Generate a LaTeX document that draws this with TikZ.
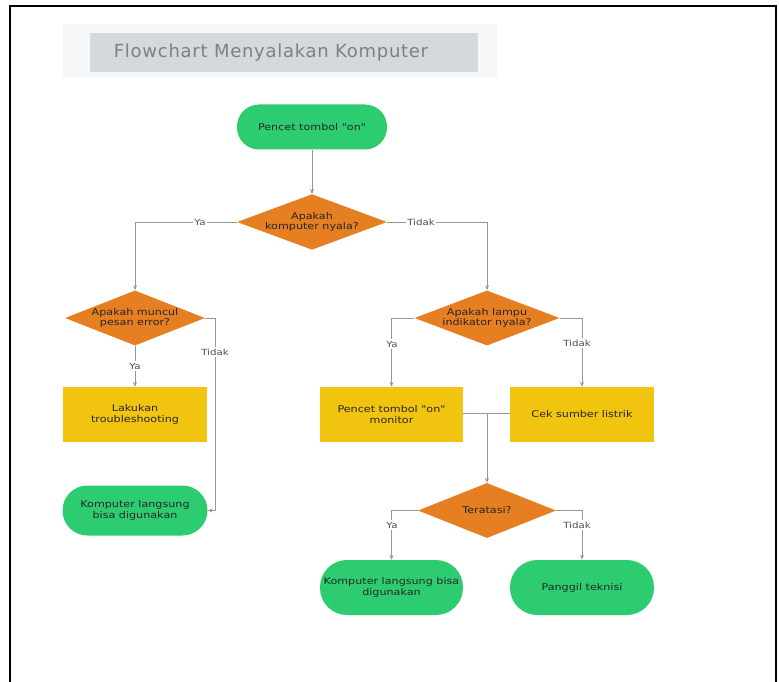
\documentclass[tikz,border=0pt]{standalone}
\usepackage{fontspec}
\setmainfont{DejaVu Sans}
\newfontfamily\nodefont[FakeStretch=1.2]{DejaVu Sans}
\usetikzlibrary{shapes.geometric,arrows.meta}
\definecolor{cgreen}{RGB}{46,204,113}
\definecolor{corange}{RGB}{230,126,34}
\definecolor{cyellow}{RGB}{241,196,15}
\definecolor{cpanel}{RGB}{244,246,247}
\definecolor{ctitlebox}{RGB}{213,216,220}
\definecolor{ctitletext}{RGB}{128,128,128}
\definecolor{cline}{RGB}{150,150,150}
\begin{document}
\begin{tikzpicture}[x=1pt,y=-1pt,
  txt/.style={font=\nodefont\fontsize{9.3}{10.5}\selectfont, text=black!85, align=center, inner sep=0pt},
  oval/.style={txt, fill=cgreen, minimum width=#1, minimum height=50pt, rounded corners=25pt},
  oval/.default=145pt,
  dec/.style={txt, diamond, fill=corange, aspect=2.6, minimum width=#1, minimum height=55pt},
  dec/.default=145pt,
  proc/.style={txt, fill=cyellow, minimum width=144pt, minimum height=55pt},
  conn/.style={draw=cline, line width=0.8pt, -{Stealth[length=5pt,width=4pt]}},
  seg/.style={draw=cline, line width=0.8pt},
  lbl/.style={font=\nodefont\fontsize{8.5}{9}\selectfont, text=black!70, fill=white, inner sep=1.5pt}
]
\useasboundingbox (0,0) rectangle (779,682);
% frame
\draw[line width=1.5pt] (10,682) -- (10,6) -- (776,6) -- (776,682);
% title
\fill[cpanel] (63,24) rectangle (497,78);
\node[fill=ctitlebox, minimum width=388pt, minimum height=39pt, inner sep=0pt] (titlebox) at (284,52.5) {};
\node[font=\addfontfeatures{LetterSpace=4}\fontsize{18}{20}\selectfont, text=ctitletext, inner sep=0pt] (title) at (271,52.5) {Flowchart Menyalakan Komputer};

% nodes
\node[oval=150pt, minimum height=45pt, rounded corners=22pt] (start) at (312,127) {Pencet tombol "on"};
\node[dec=150pt] (d1) at (312,222) {Apakah\\komputer nyala?};
\node[dec=140pt] (d2) at (135,318) {Apakah muncul\\pesan error?};
\node[dec=145pt] (d3) at (487,318) {Apakah lampu\\indikator nyala?};
\node[proc] (trb) at (135,414.5) {Lakukan\\troubleshooting};
\node[oval] (ok1) at (135,510.5) {Komputer langsung\\bisa digunakan};
\node[proc, minimum width=143pt] (mon) at (391.5,414.5) {Pencet tombol "on"\\monitor};
\node[proc] (cek) at (582,414.5) {Cek sumber listrik};
\node[dec=138pt] (d4) at (487,510.5) {Teratasi?};
\node[oval=143pt, minimum height=55pt, rounded corners=27pt] (ok2) at (391.5,587.5) {Komputer langsung bisa\\digunakan};
\node[oval=144pt, minimum height=55pt, rounded corners=27pt] (tek) at (582,587.5) {Panggil teknisi};
\coordinate (merge) at (487,413);
\coordinate (d2r) at (215,318);

% connectors
\draw[conn] (start) -- (d1);
\draw[conn] (d1.west) -| (d2.north);
\draw[conn] (d1.east) -| (d3.north);
\draw[conn] (d2.south) -- (trb.north);
\draw[conn] (d2.east) -- (d2r) |- (ok1.east);
\draw[conn] (d3.west) -| (mon.north);
\draw[conn] (d3.east) -| (cek.north);
\draw[seg] (mon.east |- merge) -- (merge);
\draw[seg] (cek.west |- merge) -- (merge);
\draw[conn] (merge) -- (d4.north);
\draw[conn] (d4.west) -| (ok2.north);
\draw[conn] (d4.east) -| (tek.north);

% labels
\node[lbl] (l1) at (200,222) {Ya};
\node[lbl] (l2) at (421,222) {Tidak};
\node[lbl] (l3) at (135,366) {Ya};
\node[lbl] (l4) at (215,352) {Tidak};
\node[lbl] (l5) at (392,344) {Ya};
\node[lbl] (l6) at (577,343) {Tidak};
\node[lbl] (l7) at (392,525) {Ya};
\node[lbl] (l8) at (577,525) {Tidak};
\end{tikzpicture}
\end{document}
